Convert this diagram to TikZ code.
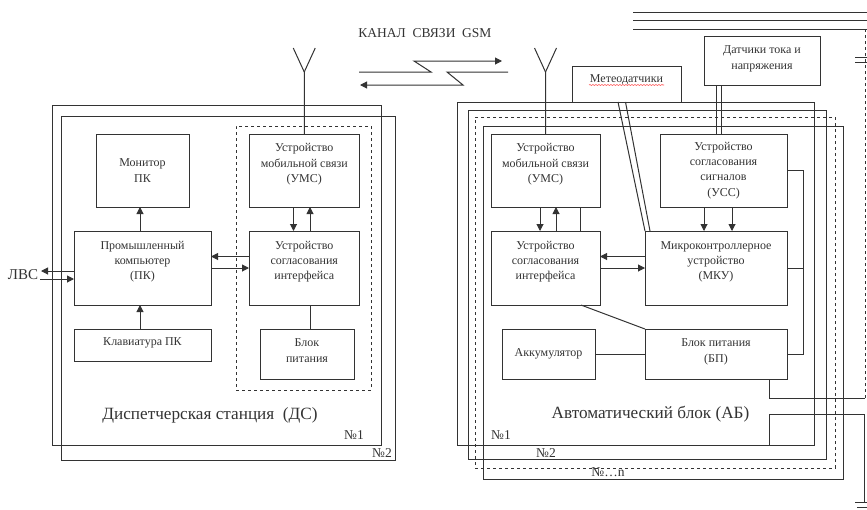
\documentclass[tikz,border=0pt]{standalone}
\usepackage{fontspec}
\setmainfont{Liberation Serif}
\usepackage{xcolor}
\usetikzlibrary{arrows.meta,decorations.pathmorphing}
\definecolor{ink}{HTML}{333333}
\tikzset{
  unit/.style={draw=ink, line width=1pt, inner sep=0pt, outer sep=0pt, align=center, text=ink, font=\fontsize{12}{15.3}\selectfont},
  frame/.style={draw=ink, line width=1pt, inner sep=0pt, outer sep=0pt},
  dashframe/.style={frame, dashed, dash pattern=on 3pt off 3pt},
  caption/.style={inner sep=0pt, text=ink, font=\fontsize{17.2}{18}\selectfont},
  numlabel/.style={inner sep=0pt, text=ink, font=\fontsize{13.5}{14}\selectfont},
  wire/.style={draw=ink, line width=1pt},
  arrow/.style={wire, -{Triangle[length=7pt,width=7pt]}},
  spell/.style={draw=red!70, line width=0.6pt, decorate, decoration={snake, amplitude=0.5pt, segment length=3pt}}
}
\begin{document}
\begin{tikzpicture}[x=1pt, y=-1pt]
  \useasboundingbox (0,0) rectangle (867,509);

  % dispatcher station
  \node[frame, minimum width=329, minimum height=340] (dsone) at (216.5,275) {};
  \node[frame, minimum width=334, minimum height=344] (dstwo) at (228,288) {};
  \node[dashframe, minimum width=135, minimum height=264] (dsdash) at (303.5,258) {};
  \node[unit, minimum width=93, minimum height=73] (monitor) at (142.5,170.5) {Монитор\\ПК};
  \node[unit, minimum width=137, minimum height=74, text depth=15] (pk) at (142.5,268) {Промышленный\\компьютер\\(ПК)};
  \node[unit, minimum width=137, minimum height=32, text depth=6] (keyb) at (142.5,345) {Клавиатура ПК};
  \node[unit, minimum width=110.5, minimum height=73, text depth=15] (umsl) at (304.25,170.5) {Устройство\\мобильной связи\\(УМС)};
  \node[unit, minimum width=110.5, minimum height=74, text depth=15] (usil) at (304.25,268) {Устройство\\согласования\\интерфейса};
  \node[unit, minimum width=94, minimum height=50, text depth=7] (powl) at (307,354) {Блок\\питания};
  \node[inner sep=0pt, text=ink, font=\fontsize{15}{16}\selectfont] (lvs) at (23,275) {ЛВС};
  \node[caption] (dstitle) at (210,415) {Диспетчерская станция\ \ (ДС)};
  \node[numlabel] (dsnumone) at (354,435) {№1};
  \node[numlabel] (dsnumtwo) at (382,453) {№2};

  \draw[arrow] ([xshift=-2.5]pk.north) -- ([xshift=-2.5]monitor.south);
  \draw[arrow] ([xshift=-2.5]keyb.north) -- ([xshift=-2.5]pk.south);
  \draw[arrow] ([xshift=-10.75]umsl.south) -- ([xshift=-10.75]usil.north);
  \draw[arrow] ([xshift=5.75]usil.north) -- ([xshift=5.75]umsl.south);
  \draw[wire] ([xshift=5.75]usil.south) -- ([xshift=3]powl.north);
  \draw[arrow] ([yshift=11.5]usil.west) -- ([yshift=11.5]pk.east);
  \draw[arrow] (pk.east) -- (usil.west);
  \draw[arrow] ([yshift=-3]pk.west) -- ++(-33,0);
  \draw[arrow] ([xshift=-34,yshift=-11]pk.west) -- ([yshift=-11]pk.west);
  \draw[wire] (umsl.north) -- ++(0,-62) coordinate (antl) -- ++(-11,-24);
  \draw[wire] (antl) -- ++(11,-24);

  % radio channel
  \node[inner sep=0pt, text=ink, font=\fontsize{13.5}{14}\selectfont] (gsm) at (425,33) {КАНАЛ\ \ СВЯЗИ\ \ GSM};
  \draw[arrow] (359,72) coordinate (gsmin) -- (431,72) -- (414,61) -- (502,61) coordinate (gsmout);
  \draw[arrow] (508,72) coordinate (gsmback) -- (447,72) -- (463,85) -- (360,85) coordinate (gsmend);

  % automatic block
  \node[frame, minimum width=357, minimum height=343] (abone) at (635.5,273.5) {};
  \node[frame, minimum width=358, minimum height=349] (abtwo) at (647,284.5) {};
  \node[dashframe, minimum width=360, minimum height=351] (abdash) at (655,292.5) {};
  \node[frame, minimum width=360, minimum height=353] (abfour) at (663,302.5) {};
  \node[unit, minimum width=109, minimum height=73, text depth=15] (umsr) at (545.5,170.5) {Устройство\\мобильной связи\\(УМС)};
  \node[unit, minimum width=109, minimum height=74, text depth=15] (usir) at (545.5,268) {Устройство\\согласования\\интерфейса};
  \node[unit, minimum width=127, minimum height=73] (uss) at (723.5,170.5) {Устройство\\согласования\\сигналов\\(УСС)};
  \node[unit, minimum width=142, minimum height=74, text depth=15] (mku) at (716,268) {Микроконтроллерное\\устройство\\(МКУ)};
  \node[unit, minimum width=142, minimum height=50, text depth=7] (powr) at (716,354) {Блок питания\\(БП)};
  \node[unit, minimum width=93, minimum height=50] (akk) at (548.5,354) {Аккумулятор};
  \node[unit, minimum width=109, minimum height=36, text depth=10] (meteo) at (626.5,84) {Метеодатчики};
  \node[unit, minimum width=116, minimum height=49, text depth=6] (sens) at (762,60.5) {Датчики тока и\\напряжения};
  \node[caption] (abtitle) at (650.5,414) {Автоматический блок (АБ)};
  \node[numlabel] (abnumone) at (501,435) {№1};
  \node[numlabel] (abnumtwo) at (546,453) {№2};
  \node[numlabel] (abnumn) at (608,472) {№…n};
  \draw[spell] (589,85) -- (664,85);

  \draw[arrow] ([xshift=-5.5]umsr.south) -- ([xshift=-5.5]usir.north);
  \draw[arrow] ([xshift=10.5]usir.north) -- ([xshift=10.5]umsr.south);
  \draw[wire] ([xshift=34.5]umsr.south) -- ([xshift=34.5]usir.north);
  \draw[arrow] ([xshift=-19.5]uss.south) -- ([xshift=-12]mku.north);
  \draw[arrow] ([xshift=8.5]uss.south) -- ([xshift=16]mku.north);
  \draw[arrow] ([yshift=11.5]mku.west) -- ([yshift=11.5]usir.east);
  \draw[arrow] (usir.east) -- (mku.west);
  \draw[wire] ([xshift=-8.5]meteo.south) -- (mku.north west);
  \draw[wire] ([xshift=-1]meteo.south) -- ([xshift=5]mku.north west);
  \draw[wire] ([xshift=-46]sens.south) -- ([xshift=-7.5]uss.north);
  \draw[wire] ([xshift=-41]sens.south) -- ([xshift=-2.5]uss.north);
  \draw[wire] (uss.east) -- ++(16,0) coordinate (tap) |- (powr.east);
  \draw[wire] (mku.east) -- (mku.east -| tap);
  \draw[wire] ([xshift=35.5]usir.south) -- (powr.north west);
  \draw[wire] (akk.east) -- (powr.west);
  \draw[wire] (umsr.north) -- ++(0,-62) coordinate (antr) -- ++(-11,-24);
  \draw[wire] (antr) -- ++(11,-24);

  % mains and earth
  \coordinate (busa) at (633,12);
  \coordinate (busb) at (633,20);
  \coordinate (busc) at (633,29);
  \coordinate (bustop) at (865,29);
  \coordinate (busend) at (865,398);
  \coordinate (capa) at (855,57);
  \coordinate (capb) at (855,62);
  \coordinate (earthtop) at (864,414);
  \coordinate (earth) at (864,502);
  \draw[wire] (busa) -- ++(234,0);
  \draw[wire] (busb) -- ++(234,0);
  \draw[wire] (busc) -- ++(234,0);
  \draw[wire] (capa) -- ++(12,0);
  \draw[wire] (capb) -- ++(12,0);
  \draw[wire] ([xshift=53]powr.south) |- (busend);
  \draw[wire, dashed, dash pattern=on 3pt off 3pt] (busend) -- (bustop);
  \draw[wire] ([xshift=133.5]abone.south) |- (earthtop) -- (earth);
  \draw[wire] (earth) ++(-9,0) -- ++(12,0);
  \draw[wire] (earth) ++(-7,5) -- ++(10,0);
\end{tikzpicture}
\end{document}
